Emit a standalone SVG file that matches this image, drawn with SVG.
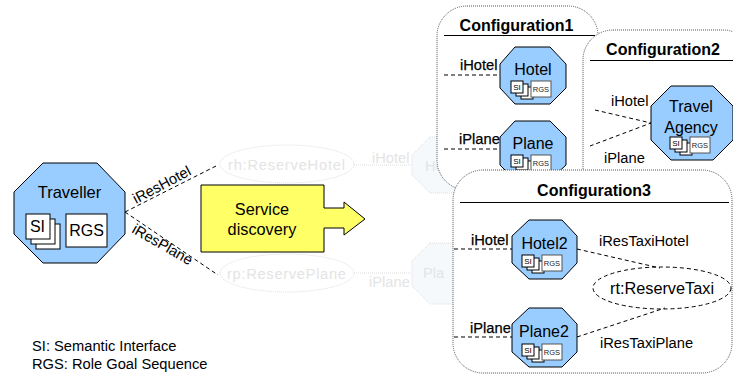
<svg xmlns="http://www.w3.org/2000/svg" width="733" height="374" viewBox="0 0 733 374">
<style>
text{font-family:"Liberation Sans",Arial,sans-serif;fill:#000}
.oct{fill:#99ccff;stroke:#000;stroke-width:1}
.box{fill:#fff;stroke:#000;stroke-width:1}
.cfg{fill:#fff;stroke:#555;stroke-width:1;stroke-dasharray:1 1}
.dash{fill:none;stroke:#000;stroke-width:1;stroke-dasharray:4 3}
.rule{stroke:#000;stroke-width:1}
.title{font-size:16px;font-weight:bold;text-anchor:middle}
.lbl{font-size:14.700px}
.bl{stroke:#000;stroke-width:.25}
.nm{font-size:16px;text-anchor:middle}
.si{font-size:8px;text-anchor:middle}
.rg{font-size:7.500px;text-anchor:middle;fill:#222}
.gh{fill:#f6f9fc;stroke:#dedede;stroke-dasharray:1 1}
.ge{fill:#fff;stroke:#dedede;stroke-dasharray:1 1}
.ght{font-size:14.700px;fill:#e4e4e4}
</style>
<defs>
<g id="mini">
<rect class="box" x="10" y="6" width="12" height="12"/>
<rect class="box" x="5" y="3" width="12" height="12"/>
<rect class="box" x="0" y="0" width="12" height="12" stroke="#555"/>
<text class="si" x="6" y="9">SI</text>
<rect x="20" y="0" width="20" height="16" fill="#fff" stroke="#555"/>
<text class="rg" x="30" y="11">RGS</text>
</g>
</defs>
<g id="ghost">
<ellipse class="ge" cx="287" cy="164" rx="67" ry="19"/>
<text class="ght" x="228" y="170" textLength="117">rh:ReserveHotel</text>
<ellipse class="ge" cx="287" cy="273" rx="67" ry="19"/>
<text class="ght" x="227" y="279" textLength="119">rp:ReservePlane</text>
<path class="ge" d="M354 165H412"/>
<path class="ge" d="M354 273H412"/>
<text class="ght" x="372" y="163">iHotel</text>
<text class="ght" x="369" y="287">iPlane</text>
<polygon class="gh" points="430,137 480,137 480,193 430,193 412,175 412,155"/>
<text class="ght" x="425" y="171" font-size="16">Ho</text>
<polygon class="gh" points="430,243 480,243 480,304 430,304 412,286 412,261"/>
<text class="ght" x="423" y="278" font-size="16">Pla</text>
</g>
<g id="connectors">
<path class="dash" d="M125 212L218 165"/>
<path class="dash" d="M125 212L218 275"/>
</g>
<g id="traveller">
<polygon class="oct" points="43,163 97,163 125,192 125,234 97,263 43,263 14,234 14,192"/>
<text x="69.500" y="198" font-size="16.500" text-anchor="middle">Traveller</text>
<rect class="box" x="36" y="224" width="24" height="25"/>
<rect class="box" x="31" y="219" width="24" height="25"/>
<rect class="box" x="26" y="214" width="24" height="25"/>
<text x="37.500" y="232" font-size="16" text-anchor="middle">SI</text>
<rect class="box" x="66" y="214" width="41" height="33"/>
<text x="86.500" y="236" font-size="16" text-anchor="middle">RGS</text>
</g>
<text class="lbl" transform="translate(136 204) rotate(-28)">iResHotel</text>
<text class="lbl" transform="translate(131 232) rotate(30)">iResPlane</text>
<g id="service-discovery">
<polygon points="201,185 324,185 324,208 344,208 344,202 365,219 344,235 344,228 324,228 324,252 201,252" fill="#ffff66" stroke="#000"/>
<text x="262" y="215" font-size="16.300" text-anchor="middle">Service</text>
<text x="262" y="235" font-size="16.300" text-anchor="middle">discovery</text>
</g>
<g id="configuration1">
<rect class="cfg" x="437" y="6" width="161" height="184" rx="30"/>
<path class="rule" d="M444 35.500H595"/>
<text class="title" x="516.500" y="31">Configuration1</text>
<text class="lbl bl" x="460" y="70">iHotel</text>
<path class="dash" d="M444 75H502"/>
<text class="lbl bl" x="459" y="144">iPlane</text>
<path class="dash" d="M444 149H502"/>
<g id="hotel">
<polygon class="oct" points="515,47 550,47 566,64 566,88 550,104 515,104 500,88 500,64"/>
<text class="nm" x="533" y="75">Hotel</text>
<use href="#mini" x="511" y="81"/>
</g>
<g id="plane">
<polygon class="oct" points="515,121 550,121 566,137 566,165 550,180 515,180 500,165 500,137"/>
<text class="nm" x="533" y="149">Plane</text>
<use href="#mini" x="511" y="155"/>
</g>
</g>
<g id="configuration2">
<rect class="cfg" x="583" y="30" width="170" height="175" rx="30"/>
<path class="rule" d="M590 60.500H733"/>
<text class="title" x="663" y="55">Configuration2</text>
<text class="lbl" x="611" y="106">iHotel</text>
<text class="lbl" x="604" y="163">iPlane</text>
<path class="dash" d="M595 110L651 123L590 146"/>
<g id="travel-agency">
<polygon class="oct" points="671,86 713,86 733,106 733,140 713,160 671,160 651,140 651,106"/>
<text class="nm" x="691" y="112">Travel</text>
<text class="nm" x="691" y="133">Agency</text>
<use href="#mini" x="670" y="137"/>
</g>
</g>
<g id="configuration3">
<rect class="cfg" x="453" y="170" width="279" height="203" rx="30"/>
<path class="rule" d="M460 202.500H729"/>
<text class="title" x="594" y="196">Configuration3</text>
<text class="lbl bl" x="471" y="245">iHotel</text>
<path class="dash" d="M454 249H512"/>
<text class="lbl bl" x="470" y="333">iPlane</text>
<path class="dash" d="M454 337H512"/>
<text class="lbl" x="599" y="246">iResTaxiHotel</text>
<text class="lbl" x="600" y="348">iResTaxiPlane</text>
<path class="dash" d="M577 249L660 268"/>
<path class="dash" d="M577 337L665 308"/>
<g id="rt-reservetaxi">
<ellipse cx="662" cy="288" rx="69" ry="21" fill="none" stroke="#000" stroke-dasharray="4 3"/>
<text x="662" y="294" font-size="16.300" text-anchor="middle">rt:ReserveTaxi</text>
</g>
<g id="hotel2">
<polygon class="oct" points="529,220 562,220 577,236 577,263 562,279 529,279 512,263 512,236"/>
<text class="nm" x="544.500" y="249">Hotel2</text>
<use href="#mini" x="522" y="255"/>
</g>
<g id="plane2">
<polygon class="oct" points="529,308 562,308 577,324 577,352 562,367 529,367 512,352 512,324"/>
<text class="nm" x="544" y="337">Plane2</text>
<use href="#mini" x="522" y="344"/>
</g>
</g>
<g id="legend">
<text x="32" y="351" font-size="14.700">SI: Semantic Interface</text>
<text x="32" y="369" font-size="14.700">RGS: Role Goal Sequence</text>
</g>
</svg>
